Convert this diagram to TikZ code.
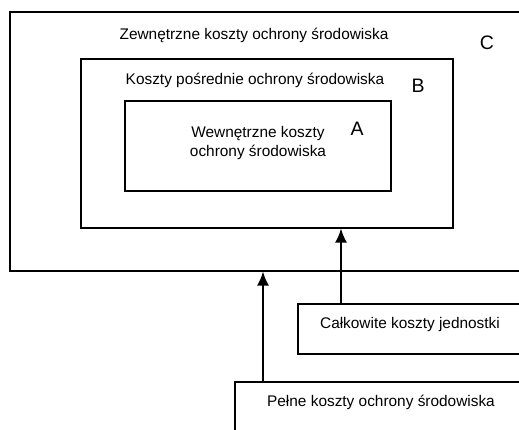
\documentclass[tikz,border=0pt]{standalone}
\usepackage{fontspec}
\setmainfont{Liberation Sans}
\usetikzlibrary{arrows.meta}

\tikzset{
  box/.style={draw, line width=1.6pt, anchor=north west, inner sep=0pt},
  lbl/.style={font=\fontsize{15.4}{18.5}\selectfont, align=center, inner sep=0pt},
  letter/.style={font=\fontsize{19.5}{22}\selectfont, inner sep=0pt},
  up/.style={line width=1.6pt, -{Latex[length=14pt,width=12pt]}}
}

\begin{document}
\begin{tikzpicture}[x=1pt,y=-1pt]
      \useasboundingbox (0,0) rectangle (519,430);
      \clip (0,0) rectangle (519,430);

      % nested cost areas
      \node [box, minimum width=525pt, minimum height=259pt] (C) at (9,11) {};
      \node [box, minimum width=372pt, minimum height=169pt] (B) at (80,58) {};
      \node [box, minimum width=266pt, minimum height=90pt] (A) at (124,100) {};

      \node [lbl] (Ctxt) at (254,35) {Zewnętrzne koszty ochrony środowiska};
      \node [letter] (Clet) at (487,43) {C};
      \node [lbl] (Btxt) at (255,80) {Koszty pośrednie ochrony środowiska};
      \node [letter] (Blet) at (418,86) {B};
      \node [lbl] (Atxt) at (258,143) {Wewnętrzne koszty\\ochrony środowiska};
      \node [letter] (Alet) at (357,129) {A};

      % lower boxes
      \node [box, minimum width=240pt, minimum height=50pt] (calk) at (297,303) {};
      \node [lbl] (calktxt) at (410,325) {Całkowite koszty jednostki};
      \node [box, minimum width=300pt, minimum height=70pt] (pelne) at (234,381) {};
      \node [lbl] (pelnetxt) at (381,402) {Pełne koszty ochrony środowiska};

      \draw [up] ([xshift=44pt]calk.north west) -- ([xshift=44pt]calk.north west |- B.south);
      \draw [up] ([xshift=29pt]pelne.north west) -- ([xshift=29pt]pelne.north west |- C.south);
\end{tikzpicture}
\end{document}
